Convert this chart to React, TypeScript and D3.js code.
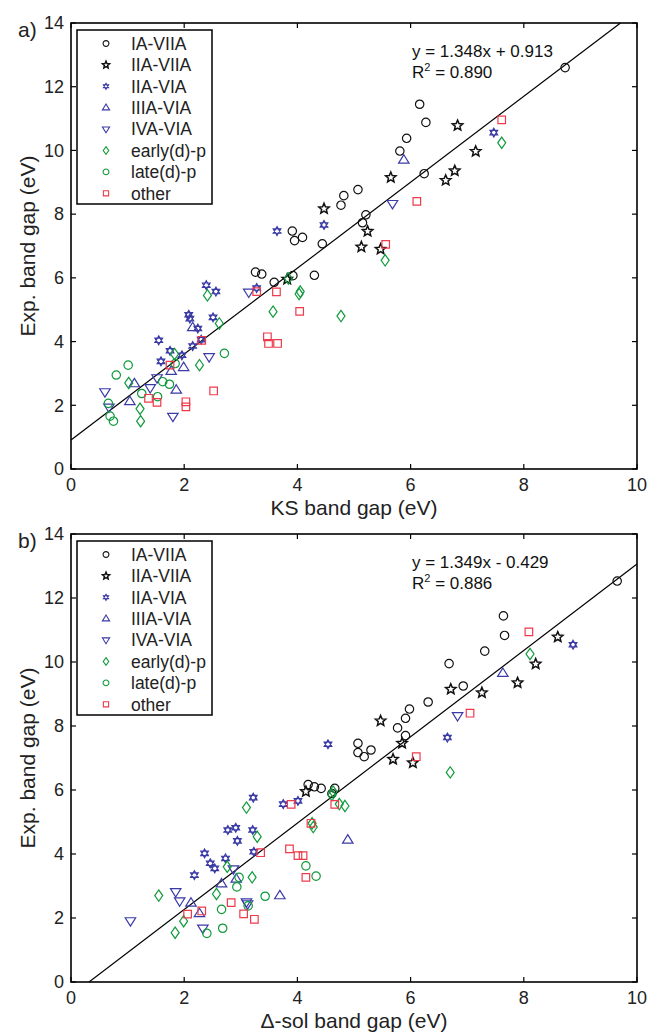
import * as d3 from "d3";

type Pt = [number, number];

// categories
const groups = ["IA-VIIA", "IIA-VIIA", "IIA-VIA", "IIIA-VIA", "IVA-VIA", "early(d)-p", "late(d)-p", "other"];
const shapes = ["circle", "star", "hexagram", "triUp", "triDown", "diamond", "circle", "square"];
const colors = ["#111111", "#111111", "#3b3ba6", "#3b3ba6", "#3b3ba6", "#109a3c", "#109a3c", "#ee3a4a"];

const xTicks = [0, 2, 4, 6, 8, 10];
const yTicks = [0, 2, 4, 6, 8, 10, 12, 14];

// panel a: KS band gap vs experiment
const ksIAVIIA: Pt[] = [[8.73, 12.6], [6.16, 11.45], [6.27, 10.88], [5.93, 10.38], [5.81, 9.98], [6.24, 9.27], [5.07, 8.77], [4.82, 8.58], [4.77, 8.28], [5.21, 7.98], [5.15, 7.73], [3.91, 7.47], [3.95, 7.17], [4.09, 7.27], [4.44, 7.07], [3.26, 6.18], [3.37, 6.12], [3.59, 5.86], [3.92, 6.07], [4.3, 6.08]];
const ksIIAVIIA: Pt[] = [[6.83, 10.78], [7.15, 9.97], [6.78, 9.36], [6.62, 9.06], [5.65, 9.15], [4.47, 8.17], [5.24, 7.46], [5.13, 6.97], [5.47, 6.9], [3.82, 5.96]];
const ksIIAVIA: Pt[] = [[7.47, 10.56], [4.47, 7.66], [3.64, 7.47], [3.28, 5.68], [2.39, 5.77], [2.56, 5.57], [2.08, 4.84], [2.1, 4.72], [2.24, 4.41], [2.51, 4.76], [1.55, 4.04], [1.75, 3.71], [1.59, 3.38], [2.15, 3.86], [1.96, 3.57], [2.3, 4.06]];
const ksIIIAVIA: Pt[] = [[5.88, 9.7], [2.15, 4.44], [1.99, 3.19], [1.77, 3.07], [1.86, 2.48], [1.12, 2.68], [1.04, 2.12]];
const ksIVAVIA: Pt[] = [[5.68, 8.33], [3.14, 5.55], [2.44, 3.52], [1.8, 1.65], [0.6, 2.42], [0.67, 1.94], [1.4, 2.55], [1.52, 2.86]];
const ksEarly: Pt[] = [[7.61, 10.24], [5.55, 6.55], [4.77, 4.8], [3.84, 5.98], [4.05, 5.57], [4.03, 5.49], [3.57, 4.94], [2.41, 5.45], [2.62, 4.57], [1.83, 3.61], [2.27, 3.26], [1.02, 2.7], [1.22, 1.89], [1.23, 1.5]];
const ksLate: Pt[] = [[0.66, 2.06], [0.69, 1.66], [0.75, 1.5], [0.8, 2.95], [1.01, 3.26], [1.25, 2.37], [1.53, 2.27], [1.62, 2.74], [1.74, 2.66], [1.84, 3.31], [2.71, 3.63]];
const ksOther: Pt[] = [[7.61, 10.96], [6.11, 8.4], [5.56, 7.05], [3.28, 5.57], [3.63, 5.56], [4.04, 4.95], [3.47, 4.15], [3.49, 3.94], [3.65, 3.94], [2.31, 4.04], [1.75, 3.26], [2.52, 2.45], [1.37, 2.22], [1.52, 2.09], [2.03, 2.11], [2.03, 1.95]];

// panel b: delta-sol band gap vs experiment
const dsIAVIIA: Pt[] = [[9.65, 12.53], [7.64, 11.44], [7.66, 10.83], [7.31, 10.34], [6.68, 9.95], [6.93, 9.25], [6.31, 8.75], [5.98, 8.53], [5.91, 8.24], [5.77, 7.94], [5.91, 7.7], [5.07, 7.46], [5.07, 7.17], [5.18, 7.04], [5.3, 7.25], [4.19, 6.17], [4.3, 6.1], [4.42, 6.05], [4.66, 6.05], [4.61, 5.89]];
const dsIIAVIIA: Pt[] = [[8.6, 10.78], [8.21, 9.94], [7.89, 9.35], [7.26, 9.04], [6.71, 9.15], [5.47, 8.16], [5.85, 7.46], [5.69, 6.96], [6.04, 6.85], [4.15, 5.95]];
const dsIIAVIA: Pt[] = [[8.87, 10.54], [6.65, 7.64], [4.54, 7.43], [3.22, 5.76], [3.75, 5.56], [4.01, 5.66], [2.77, 4.75], [2.91, 4.82], [3.21, 4.75], [2.94, 4.41], [2.36, 4.02], [2.73, 3.86], [3.23, 4.07], [2.46, 3.71], [2.54, 3.55], [2.18, 3.34]];
const dsIIIAVIA: Pt[] = [[7.63, 9.65], [4.89, 4.44], [3.69, 2.7], [2.66, 3.07], [2.12, 2.47], [2.27, 2.14], [2.92, 3.22]];
const dsIVAVIA: Pt[] = [[6.83, 8.32], [1.05, 1.91], [1.85, 2.82], [1.92, 2.53], [2.33, 1.68], [2.87, 3.53], [3.12, 2.44], [3.1, 2.5]];
const dsEarly: Pt[] = [[8.11, 10.25], [6.7, 6.55], [4.63, 5.95], [4.61, 5.84], [4.74, 5.56], [4.84, 5.5], [4.26, 4.96], [4.28, 4.84], [3.1, 5.45], [3.29, 4.54], [1.55, 2.7], [1.84, 1.54], [1.99, 1.9], [2.57, 2.75], [2.76, 3.6], [3.2, 3.27]];
const dsLate: Pt[] = [[4.15, 3.63], [4.33, 3.31], [3.43, 2.68], [2.97, 3.27], [2.93, 2.97], [2.66, 2.27], [2.68, 1.68], [2.4, 1.52], [3.13, 2.38]];
const dsOther: Pt[] = [[8.09, 10.94], [7.05, 8.4], [6.1, 7.04], [3.89, 5.55], [4.66, 5.55], [4.24, 4.96], [3.35, 4.04], [3.86, 4.16], [4.01, 3.95], [4.1, 3.95], [4.15, 3.27], [2.83, 2.48], [2.31, 2.22], [2.06, 2.12], [3.05, 2.13], [3.24, 1.96]];

const FONT = "'Liberation Sans', Arial, Helvetica, sans-serif";

function markerPath(shape: string, s: number): string {
  const p = d3.path();
  if (shape === "circle") {
    p.moveTo(s, 0);
    p.arc(0, 0, s, 0, Math.PI * 2);
  } else if (shape === "square") {
    const h = s * 0.9;
    p.rect(-h, -h, 2 * h, 2 * h);
  } else if (shape === "diamond") {
    p.moveTo(0, -s * 1.35);
    p.lineTo(s * 0.95, 0);
    p.lineTo(0, s * 1.35);
    p.lineTo(-s * 0.95, 0);
    p.closePath();
  } else if (shape === "triUp" || shape === "triDown") {
    const r = s * 1.25;
    const sg = shape === "triUp" ? 1 : -1;
    p.moveTo(0, -sg * r);
    p.lineTo(r * 0.866 * 1.15, sg * r * 0.6);
    p.lineTo(-r * 0.866 * 1.15, sg * r * 0.6);
    p.closePath();
  } else if (shape === "hexagram") {
    const r = s * 1.05;
    for (const sg of [1, -1]) {
      p.moveTo(0, -sg * r);
      p.lineTo(r * 0.866, sg * r * 0.5);
      p.lineTo(-r * 0.866, sg * r * 0.5);
      p.closePath();
    }
  } else if (shape === "star") {
    const ro = s * 1.3;
    const ri = ro * 0.45;
    for (let i = 0; i < 10; i++) {
      const r = i % 2 === 0 ? ro : ri;
      const a = (i * Math.PI) / 5 - Math.PI / 2;
      if (i === 0) p.moveTo(r * Math.cos(a), r * Math.sin(a));
      else p.lineTo(r * Math.cos(a), r * Math.sin(a));
    }
    p.closePath();
  }
  return p.toString();
}

type PanelProps = {
  top: number;
  bottom: number;
  series: Pt[][];
  slope: number;
  intercept: number;
  eq: string;
  r2: string;
  tag: string;
  xLabel: string;
};

const LEFT = 71;
const RIGHT = 637;

function Panel({ top, bottom, series, slope, intercept, eq, r2, tag, xLabel }: PanelProps) {
  const x = d3.scaleLinear().domain([0, 10]).range([LEFT, RIGHT]);
  const y = d3.scaleLinear().domain([0, 14]).range([bottom, top]);

  // fit line clipped to plot area
  const x0 = Math.max(0, -intercept / slope);
  const x1 = Math.min(10, (14 - intercept) / slope);
  const fit = d3.line<number>().x((v) => x(v)).y((v) => y(slope * v + intercept));

  const lx = 77;
  const ly = top + 7;
  const lw = 135;
  const lh = 174;

  return (
    <g>
      <text x={18} y={top + 14} fontSize={21} fontFamily={FONT} fill="#222">{tag}</text>
      {yTicks.map((t) => (
        <g key={"y" + t}>
          <line x1={LEFT} x2={LEFT + 5} y1={y(t)} y2={y(t)} stroke="#000" strokeWidth={1.2} />
          <line x1={RIGHT} x2={RIGHT - 5} y1={y(t)} y2={y(t)} stroke="#000" strokeWidth={1.2} />
          <text x={LEFT - 7} y={y(t)} dy="0.35em" textAnchor="end" fontSize={18} fontFamily={FONT} fill="#222">{t}</text>
        </g>
      ))}
      {xTicks.map((t) => (
        <g key={"x" + t}>
          <line x1={x(t)} x2={x(t)} y1={bottom} y2={bottom - 5} stroke="#000" strokeWidth={1.2} />
          <line x1={x(t)} x2={x(t)} y1={top} y2={top + 5} stroke="#000" strokeWidth={1.2} />
          <text x={x(t)} y={bottom + 22} textAnchor="middle" fontSize={18} fontFamily={FONT} fill="#222">{t}</text>
        </g>
      ))}
      <text x={(LEFT + RIGHT) / 2} y={bottom + 46} textAnchor="middle" fontSize={21} fontFamily={FONT} fill="#222">{xLabel}</text>
      <text transform={`translate(35,${(top + bottom) / 2}) rotate(-90)`} textAnchor="middle" fontSize={21} fontFamily={FONT} fill="#222">Exp. band gap (eV)</text>

      <path d={fit([x0, x1]) || ""} stroke="#000" strokeWidth={1.2} fill="none" />

      {series.map((pts, si) => (
        <g key={"s" + si}>
          {pts.map((d, i) => (
            <path key={i} transform={`translate(${x(d[0])},${y(d[1])})`} d={markerPath(shapes[si], 4.2)} fill="none" stroke={colors[si]} strokeWidth={shapes[si] === "star" ? 1.5 : 1.2} />
          ))}
        </g>
      ))}

      <text x={412} y={top + 34} fontSize={17} fontFamily={FONT} fill="#111">{eq}</text>
      <text x={412} y={top + 55} fontSize={17} fontFamily={FONT} fill="#111">
        R<tspan dy={-7} fontSize={11}>2</tspan><tspan dy={7}> = {r2}</tspan>
      </text>

      <rect x={lx} y={ly} width={lw} height={lh} fill="#fff" stroke="#000" strokeWidth={1.5} />
      {groups.map((g, i) => (
        <g key={g} transform={`translate(0,${ly + 13.5 + i * 21.4})`}>
          <path transform="translate(106,0)" d={markerPath(shapes[i], 2.9)} fill="none" stroke={colors[i]} strokeWidth={shapes[i] === "star" ? 1.4 : 1.1} />
          <text x={131} y={0} dy="0.36em" fontSize={17.5} fontFamily={FONT} fill="#222">{g}</text>
        </g>
      ))}

      <rect x={LEFT} y={top} width={RIGHT - LEFT} height={bottom - top} fill="none" stroke="#000" strokeWidth={1.6} />
    </g>
  );
}

export default function App() {
  const ks = [ksIAVIIA, ksIIAVIIA, ksIIAVIA, ksIIIAVIA, ksIVAVIA, ksEarly, ksLate, ksOther];
  const ds = [dsIAVIIA, dsIIAVIIA, dsIIAVIA, dsIIIAVIA, dsIVAVIA, dsEarly, dsLate, dsOther];
  return (
    <svg width={650} height={1033} style={{ position: "absolute", left: 0, top: 0, background: "#fff" }}>
      <rect width={650} height={1033} fill="#fff" />
      <Panel top={23} bottom={469} series={ks} slope={1.348} intercept={0.913} eq="y = 1.348x + 0.913" r2="0.890" tag="a)" xLabel="KS band gap (eV)" />
      <Panel top={534} bottom={982} series={ds} slope={1.349} intercept={-0.429} eq="y = 1.349x - 0.429" r2="0.886" tag="b)" xLabel="Δ-sol band gap (eV)" />
    </svg>
  );
}
